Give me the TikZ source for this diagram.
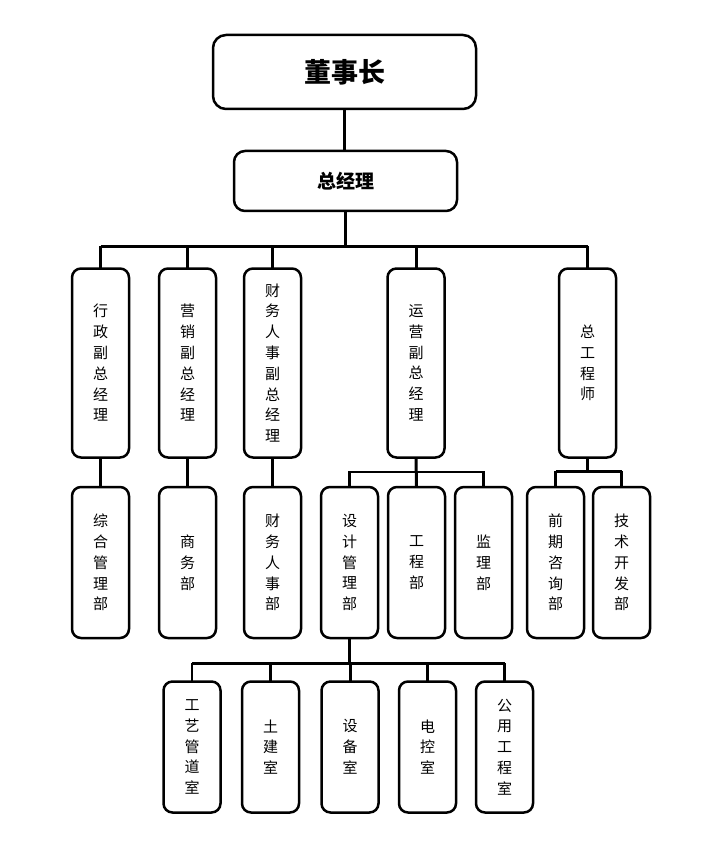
\documentclass[tikz,border=0pt]{standalone}
\usepackage{fontspec}
\newfontfamily\cjk{Noto Sans CJK SC}
\begin{document}
\begin{tikzpicture}[x=1pt,y=-1pt,
  box/.style={draw,line width=2.5pt,rounded corners=9pt,inner sep=0pt,outer sep=0pt,
    minimum width=57pt,align=center,font=\cjk\fontsize{15pt}{20.8pt}\selectfont},
  conn/.style={line width=3pt},
  thin/.style={line width=2.2pt}]
\useasboundingbox (0,0) rectangle (716,842);
% top
\node[box,minimum width=263pt,minimum height=74pt,rounded corners=13pt,
  font=\cjk\bfseries\fontsize{27pt}{30pt}\selectfont] (ceo) at (344.5,72) {董事长};
\node[box,minimum width=223pt,minimum height=60pt,rounded corners=11pt,
  font=\cjk\bfseries\fontsize{19pt}{22pt}\selectfont] (gm) at (345.5,181) {总经理};
% vice row
\node[box,minimum height=189pt] (v1) at (100.5,363) {行\\政\\副\\总\\经\\理};
\node[box,minimum height=189pt] (v2) at (187.5,363) {营\\销\\副\\总\\经\\理};
\node[box,minimum height=189pt] (v3) at (272.5,363) {财\\务\\人\\事\\副\\总\\经\\理};
\node[box,minimum height=189pt] (v4) at (416,363) {运\\营\\副\\总\\经\\理};
\node[box,minimum height=189pt] (v5) at (587.5,363) {总\\工\\程\\师};
% department row
\node[box,minimum height=151pt] (d1) at (100.5,562.5) {综\\合\\管\\理\\部};
\node[box,minimum height=151pt] (d2) at (187.5,562.5) {商\\务\\部};
\node[box,minimum height=151pt] (d3) at (272.5,562.5) {财\\务\\人\\事\\部};
\node[box,minimum height=151pt] (d4) at (349.5,562.5) {设\\计\\管\\理\\部};
\node[box,minimum height=151pt] (d5) at (416.5,562.5) {工\\程\\部};
\node[box,minimum height=151pt] (d6) at (483.5,562.5) {监\\理\\部};
\node[box,minimum height=151pt] (d7) at (555.5,562.5) {前\\期\\咨\\询\\部};
\node[box,minimum height=151pt] (d8) at (621.5,562.5) {技\\术\\开\\发\\部};
% room row
\node[box,minimum height=131pt] (r1) at (192,747) {工\\艺\\管\\道\\室};
\node[box,minimum height=131pt] (r2) at (270.5,747) {土\\建\\室};
\node[box,minimum height=131pt] (r3) at (350,747) {设\\备\\室};
\node[box,minimum height=131pt] (r4) at (427.5,747) {电\\控\\室};
\node[box,minimum height=131pt] (r5) at (504.5,747) {公\\用\\工\\程\\室};
% bus coordinates
\coordinate (busA) at (344,246);
\coordinate (busB) at (416,472);
\coordinate (busC) at (587,471);
\coordinate (busD) at (349,663);
% connectors
\draw[conn] (ceo.south) -- (ceo.south |- gm.north);
\draw[conn] (gm.south) -- (gm.south |- busA);
\draw[conn] (v1.north |- busA) -- (v5.north |- busA);
\draw[thin] (v1.north) -- (v1.north |- busA);
\draw[thin] (v2.north) -- (v2.north |- busA);
\draw[conn] (v3.north) -- (v3.north |- busA);
\draw[conn] (v4.north) -- (v4.north |- busA);
\draw[thin] (v5.north) -- (v5.north |- busA);
\draw[conn] (v1.south) -- (d1.north);
\draw[thin] (v2.south) -- (d2.north);
\draw[conn] (v3.south) -- (d3.north);
% operations sub-bus
\draw[conn] (v4.south) -- (d5.north);
\draw[thin] (d4.north) -- (d4.north |- busB) -- (d6.north |- busB) -- (d6.north);
% chief engineer sub-bus
\draw[thin] (v5.south) -- (v5.south |- busC);
\draw[conn] (d7.north |- busC) -- (d8.north |- busC);
\draw[thin] (d7.north) -- (d7.north |- busC);
\draw[thin] (d8.north) -- (d8.north |- busC);
% design sub-bus
\draw[conn] (d4.south) -- (d4.south |- busD);
\draw[conn] (r1.north |- busD) -- (r5.north |- busD);
\draw[thin] (r1.north) -- (r1.north |- busD);
\draw[thin] (r2.north) -- (r2.north |- busD);
\draw[conn] (r3.north) -- (r3.north |- busD);
\draw[thin] (r4.north) -- (r4.north |- busD);
\draw[conn] (r5.north) -- (r5.north |- busD);
\end{tikzpicture}
\end{document}
